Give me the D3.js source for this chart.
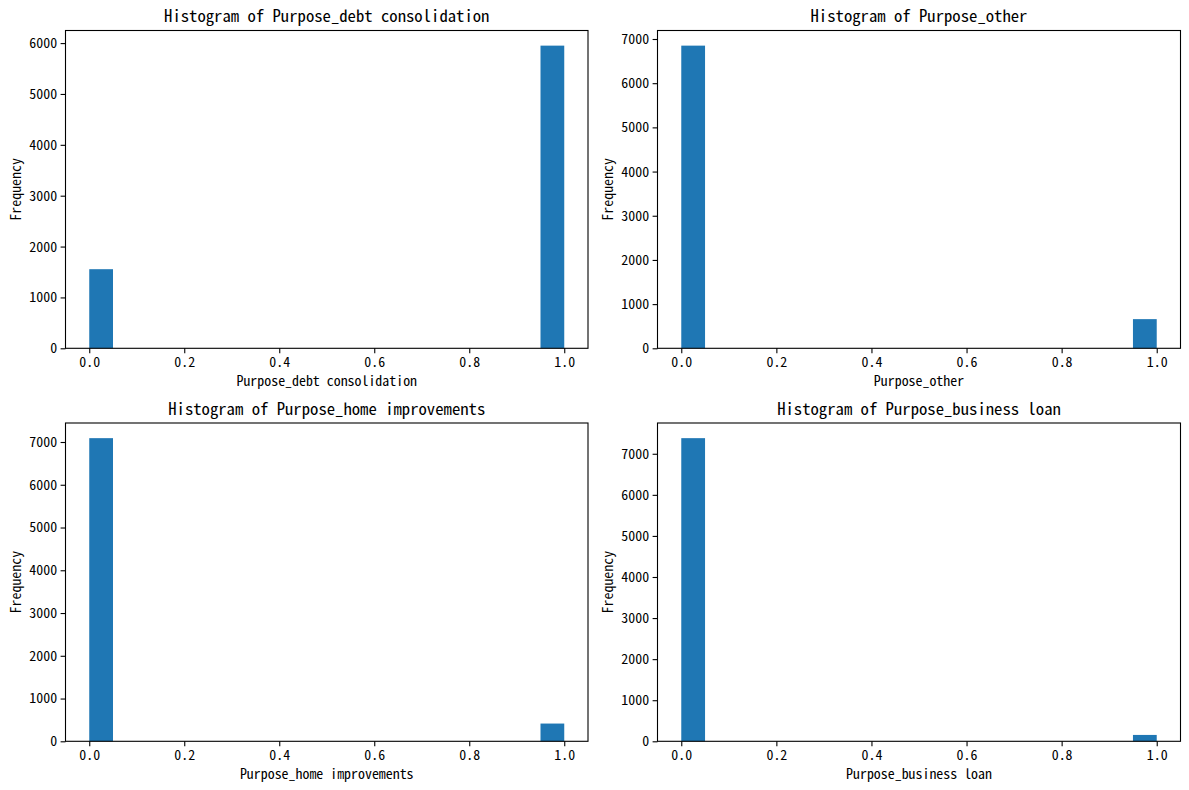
<!DOCTYPE html>
<html>
<head>
<meta charset="utf-8">
<script src="https://cdn.jsdelivr.net/npm/d3@7"></script>
<style>
  body { margin: 0; background: #fff; }
  text { font-family: "Noto Sans Mono CJK SC", "Liberation Mono", monospace; fill: #000; }
</style>
</head>
<body>
<script>
// columns plotted, one histogram each
var columns = ["Purpose_debt consolidation", "Purpose_other", "Purpose_home improvements", "Purpose_business loan"];
// values of each dummy column (0 or 1)
var binValues = [0, 1];
// counts, per column: [count of 0, count of 1]
var debtCounts = [1555, 5950];
var otherCounts = [6850, 660];
var homeCounts = [7090, 415];
var businessCounts = [7380, 155];
var allCounts = [debtCounts, otherCounts, homeCounts, businessCounts];
var xTicks = [0, 0.2, 0.4, 0.6, 0.8, 1.0];
var nBins = 20;

var W = 1189, H = 790;
var svg = d3.select("body").append("svg").attr("width", W).attr("height", H);

// axes boxes
var cols = [[65.5, 588], [657.5, 1180.5]];
var rows = [[30.5, 348.3], [423, 741.3]];
var binW = 1 / nBins;

columns.forEach(function(name, i) {
  var c = cols[i % 2], r = rows[Math.floor(i / 2)];
  var counts = allCounts[i];
  var g = svg.append("g");

  var x = d3.scaleLinear().domain([-0.05, 1.05]).range(c);
  var y = d3.scaleLinear().domain([0, d3.max(counts) * 1.05]).range([r[1], r[0]]);

  g.selectAll("rect.bar")
    .data(binValues)
    .enter()
    .append("rect")
    .attr("class", "bar")
    .attr("x", d => x(d === 0 ? 0 : 1 - binW))
    .attr("width", d => x(d === 0 ? binW : 1) - x(d === 0 ? 0 : 1 - binW))
    .attr("y", (d, j) => y(counts[j]))
    .attr("height", (d, j) => y(0) - y(counts[j]))
    .style("fill", "#1f77b4");

  var xAxis = g.append("g")
    .attr("transform", "translate(0," + r[1] + ")")
    .call(d3.axisBottom(x).tickValues(xTicks).tickFormat(d3.format(".1f")).tickSize(4.9).tickPadding(3.5));
  var yAxis = g.append("g")
    .attr("transform", "translate(" + c[0] + ",0)")
    .call(d3.axisLeft(y).ticks(8).tickFormat(d3.format("d")).tickSize(4.9).tickPadding(3.5));
  [xAxis, yAxis].forEach(function(a) {
    a.select(".domain").remove();
    a.selectAll("line").attr("stroke", "#000").attr("stroke-width", 1.1);
    a.selectAll("text").style("font-size", "13.9px");
  });

  // frame
  g.append("rect")
    .attr("x", c[0]).attr("y", r[0])
    .attr("width", c[1] - c[0]).attr("height", r[1] - r[0])
    .style("fill", "none").style("stroke", "#000").style("stroke-width", 1.1);

  g.append("text")
    .attr("x", (c[0] + c[1]) / 2).attr("y", r[0] - 8.5)
    .attr("text-anchor", "middle")
    .style("font-size", "16.7px")
    .text("Histogram of " + name);

  g.append("text")
    .attr("x", (c[0] + c[1]) / 2).attr("y", r[1] + 38)
    .attr("text-anchor", "middle")
    .style("font-size", "13.9px")
    .text(name);

  g.append("text")
    .attr("transform", "translate(" + (c[0] - 45) + "," + (r[0] + r[1]) / 2 + ") rotate(-90)")
    .attr("text-anchor", "middle")
    .style("font-size", "13.9px")
    .text("Frequency");
});
</script>
</body>
</html>
